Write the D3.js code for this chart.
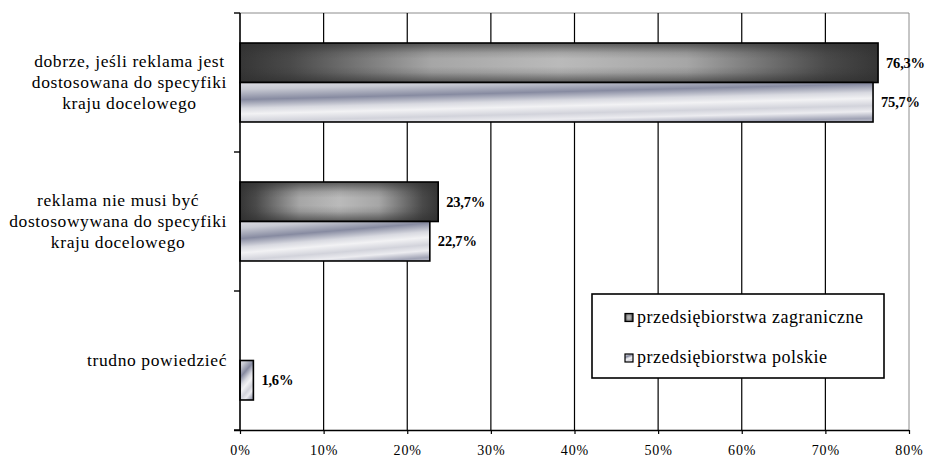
<!DOCTYPE html>
<html>
<head>
<meta charset="utf-8">
<script src="https://cdn.jsdelivr.net/npm/d3@7"></script>
<style>
  html, body { margin: 0; padding: 0; background: #fff; }
  svg { display: block; }
  text { font-family: "Liberation Serif", "Times New Roman", serif; fill: #000; }
</style>
</head>
<body>
<svg id="chart" width="929" height="458"></svg>
<script>
// Survey answers (category labels, one array entry per line of text)
const categories = [
  "dobrze, jeśli reklama jest dostosowana do specyfiki kraju docelowego",
  "reklama nie musi być dostosowywana do specyfiki kraju docelowego",
  "trudno powiedzieć"
];
const categoryLines = [
  ["dobrze, jeśli reklama jest", "dostosowana do specyfiki", "kraju docelowego"],
  ["reklama nie musi być", "dostosowywana do specyfiki", "kraju docelowego"],
  ["trudno powiedzieć"]
];
const seriesNames = ["przedsiębiorstwa zagraniczne", "przedsiębiorstwa polskie"];
const foreignValues = [0.763, 0.237, null];
const polishValues = [0.757, 0.227, 0.016];
const tickValues = [0, 0.1, 0.2, 0.3, 0.4, 0.5, 0.6, 0.7, 0.8];
const tickLabels = ["0%", "10%", "20%", "30%", "40%", "50%", "60%", "70%", "80%"];

const svg = d3.select("#chart");
const plot = { left: 240, right: 909, top: 13, bottom: 430 };

const x = d3.scaleLinear().domain([0, 0.8]).range([plot.left, plot.right]);
const y = d3.scaleBand().domain(categories).range([plot.top, plot.bottom]).padding(0);
const ySub = d3.scaleBand().domain(seriesNames).range([0, y.bandwidth()])
  .paddingInner(0).paddingOuter(0.76);

// ---- gradients ----
const defs = svg.append("defs");

// dark series: dark ends, light centre
const gDarkH = defs.append("linearGradient").attr("id", "darkH")
  .attr("x1", 0).attr("y1", 0).attr("x2", 1).attr("y2", 0);
[[0, "#363636"], [0.08, "#4a4a4a"], [0.3, "#a6a6a6"], [0.5, "#bababa"], [0.7, "#a6a6a6"], [0.92, "#4a4a4a"], [1, "#363636"]]
  .forEach(([o, c]) => gDarkH.append("stop").attr("offset", o).attr("stop-color", c));
const gDarkV = defs.append("linearGradient").attr("id", "darkV")
  .attr("x1", 0).attr("y1", 0).attr("x2", 0).attr("y2", 1);
[[0, 0.7], [0.25, 0.15], [0.4, 0], [0.6, 0], [0.75, 0.15], [1, 0.7]]
  .forEach(([o, a]) => gDarkV.append("stop").attr("offset", o).attr("stop-color", "#2e2e2e").attr("stop-opacity", a));

// light series: diagonal silver stripes
const gLight = defs.append("linearGradient").attr("id", "light")
  .attr("x1", 0).attr("y1", 0).attr("x2", 0.5).attr("y2", 1.25);
[[0, "#dcdce2"], [0.12, "#c8cad3"], [0.3, "#878ba1"], [0.45, "#d8d9e0"], [0.55, "#f2f2f4"], [0.68, "#d2d3db"],
 [0.78, "#ececf0"], [0.9, "#a0a3b5"], [1, "#c8c9d3"]]
  .forEach(([o, c]) => gLight.append("stop").attr("offset", o).attr("stop-color", c));

// ---- plot frame ----
svg.append("line").attr("x1", plot.left).attr("x2", plot.right)
  .attr("y1", plot.top).attr("y2", plot.top).attr("stroke", "#8c8c8c").attr("stroke-width", 1);
svg.append("line").attr("x1", plot.right).attr("x2", plot.right)
  .attr("y1", plot.top).attr("y2", plot.bottom).attr("stroke", "#8c8c8c").attr("stroke-width", 1);

// vertical gridlines
svg.append("g").selectAll("line")
  .data(tickValues.filter(v => v > 0 && v < 0.8))
  .join("line")
  .attr("x1", d => x(d)).attr("x2", d => x(d))
  .attr("y1", plot.top).attr("y2", plot.bottom)
  .attr("stroke", "#000").attr("stroke-width", 1.2);

// ---- bars ----
const barData = [];
categories.forEach((c, i) => {
  barData.push({ cat: c, series: seriesNames[0], v: foreignValues[i] });
  barData.push({ cat: c, series: seriesNames[1], v: polishValues[i] });
});
const bars = barData.filter(d => d.v != null && d.v > 0);

const barG = svg.append("g");
bars.forEach(d => {
  const bx = x(0), by = y(d.cat) + ySub(d.series);
  const bw = x(d.v) - x(0), bh = ySub.bandwidth();
  if (d.series === seriesNames[0]) {
    barG.append("rect").attr("x", bx).attr("y", by).attr("width", bw).attr("height", bh).attr("fill", "url(#darkH)");
    barG.append("rect").attr("x", bx).attr("y", by).attr("width", bw).attr("height", bh).attr("fill", "url(#darkV)");
  } else {
    barG.append("rect").attr("x", bx).attr("y", by).attr("width", bw).attr("height", bh).attr("fill", "url(#light)");
  }
  barG.append("rect").attr("x", bx).attr("y", by).attr("width", bw).attr("height", bh)
    .attr("fill", "none").attr("stroke", "#000").attr("stroke-width", 1.6);
});

// value labels
const fmt = v => d3.format(".1f")(v * 100).replace(".", ",") + "%";
svg.append("g").selectAll("text").data(bars).join("text")
  .attr("x", d => x(d.v) + 8)
  .attr("y", d => y(d.cat) + ySub(d.series) + ySub.bandwidth() / 2 + 5)
  .attr("font-size", 14.5).attr("font-weight", "bold").attr("letter-spacing", -0.2)
  .text(d => fmt(d.v));

// ---- axes ----
const xAxis = d3.axisBottom(x).tickValues(tickValues).tickSize(4)
  .tickFormat((d, i) => tickLabels[i]);
const gx = svg.append("g").attr("transform", `translate(0,${plot.bottom})`).call(xAxis);
gx.select(".domain").attr("stroke", "#000").attr("stroke-width", 1.6).attr("d", `M${plot.left - 6},0.5H${plot.right}`);
gx.selectAll(".tick line").attr("stroke", "#000").attr("stroke-width", 1.2);
gx.selectAll(".tick text").attr("y", 15).attr("dy", "0.7em")
  .attr("font-family", "Liberation Serif").attr("font-size", 14).attr("letter-spacing", 0.9).attr("fill", "#000");

// left axis line and category tick marks
svg.append("line").attr("x1", plot.left).attr("x2", plot.left)
  .attr("y1", plot.top).attr("y2", plot.bottom).attr("stroke", "#000").attr("stroke-width", 1.6);
const catTicks = categories.map(c => y(c)).concat([plot.bottom]);
svg.append("g").selectAll("line").data(catTicks).join("line")
  .attr("x1", plot.left - 6).attr("x2", plot.left)
  .attr("y1", d => d).attr("y2", d => d)
  .attr("stroke", "#000").attr("stroke-width", 1.4);

// category labels: lines centred within a right-aligned block
const labelRight = 227;
const catG = svg.append("g");
categoryLines.forEach((lines, i) => {
  const cy = y(categories[i]) + y.bandwidth() / 2;
  const g = catG.append("g");
  const texts = lines.map((t, j) => g.append("text")
    .attr("font-size", 17.5).attr("letter-spacing", 0.6)
    .attr("text-anchor", "middle")
    .attr("y", cy + (j - (lines.length - 1) / 2) * 21 + 5)
    .text(t));
  const maxW = d3.max(texts, t => t.node().getComputedTextLength());
  texts.forEach(t => t.attr("x", labelRight - maxW / 2));
});

// ---- legend ----
const leg = svg.append("g");
leg.append("rect").attr("x", 592).attr("y", 294).attr("width", 292).attr("height", 84)
  .attr("fill", "#fff").attr("stroke", "#000").attr("stroke-width", 1.6);
const legFills = ["dark", "light"];
seriesNames.forEach((s, i) => {
  const ly = 317.5 + i * 40.5;
  if (legFills[i] === "dark") {
    leg.append("rect").attr("x", 625).attr("y", ly - 4).attr("width", 8).attr("height", 8).attr("fill", "url(#darkH)");
    leg.append("rect").attr("x", 625).attr("y", ly - 4).attr("width", 8).attr("height", 8).attr("fill", "url(#darkV)");
  } else {
    leg.append("rect").attr("x", 625).attr("y", ly - 4).attr("width", 8).attr("height", 8).attr("fill", "url(#light)");
  }
  leg.append("rect").attr("x", 625).attr("y", ly - 4).attr("width", 8).attr("height", 8)
    .attr("fill", "none").attr("stroke", "#000").attr("stroke-width", 1.2);
  leg.append("text").attr("x", 637).attr("y", ly + 5)
    .attr("font-size", 18).attr("letter-spacing", 0.5).text(s);
});
</script>
</body>
</html>
